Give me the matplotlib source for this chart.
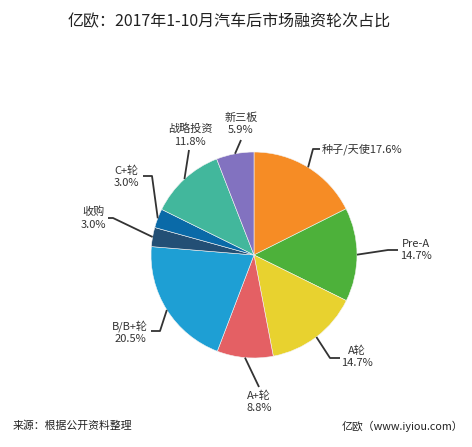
import numpy as np
import matplotlib
matplotlib.use("Agg")
import matplotlib.pyplot as plt

plt.rcParams['font.family'] = ['Noto Sans CJK SC', 'DejaVu Sans']

title = "亿欧：2017年1-10月汽车后市场融资轮次占比"
categories = ["种子/天使", "Pre-A", "A轮", "A+轮", "B/B+轮", "收购", "C+轮", "战略投资", "新三板"]
values = [17.6, 14.7, 14.7, 8.8, 20.5, 3.0, 3.0, 11.8, 5.9]
colors = ["#F68C25", "#4DB13A", "#E8D22F", "#E46064", "#1E9FD4",
          "#234F75", "#0A6AA8", "#42B79C", "#8272C0"]
source = "来源：根据公开资料整理"
credit = "亿欧（www.iyiou.com）"

W, H = 472, 447
fig = plt.figure(figsize=(W / 100, H / 100), dpi=100)
ax = fig.add_axes([0, 0, 1, 1])

cx, cy, R = 254, H - 255, 103
wedges, _ = ax.pie(values, colors=colors, startangle=90, counterclock=False,
                   center=(cx, cy), radius=R, frame=True,
                   wedgeprops=dict(linewidth=0.4, edgecolor='#f4f4f4'))
ax.set_xlim(0, W)
ax.set_ylim(0, H)
ax.set_aspect('equal')
ax.axis('off')

layout = {
    "种子/天使": dict(elbow=(313, 149), end=(320, 149), text=(322, 149), ha='left', single=True),
    "Pre-A":   dict(elbow=(388, 250), end=(398, 250), text=(416, 250), ha='center', single=False),
    "A轮":     dict(elbow=(330, 358), end=(340, 358), text=(357, 357), ha='center', single=False),
    "A+轮":    dict(elbow=(259, 387), end=(259, 387), text=(259, 402), ha='center', single=False),
    "B/B+轮":  dict(elbow=(160, 331), end=(151, 331), text=(130, 332), ha='center', single=False),
    "收购":    dict(elbow=(113, 218), end=(108, 218), text=(93, 218), ha='center', single=False),
    "C+轮":    dict(elbow=(152, 176), end=(143, 176), text=(126, 177), ha='center', single=False),
    "战略投资": dict(elbow=(189, 150), end=(189, 150), text=(190, 135), ha='center', single=False),
    "新三板":  dict(elbow=(241, 140), end=(241, 140), text=(241, 124), ha='center', single=False),
}

total = sum(values)
cum = 0.0
for cat, v in zip(categories, values):
    mid = (cum + v / 2) / total * 2 * np.pi
    cum += v
    ex = cx + R * np.sin(mid)
    ey = cy + R * np.cos(mid)
    L = layout[cat]
    xs = [ex, L['elbow'][0], L['end'][0]]
    ys = [ey, H - L['elbow'][1], H - L['end'][1]]
    ax.plot(xs, ys, color='#333333', lw=1.3, solid_capstyle='butt', zorder=3)
    pct = f"{v:.1f}%"
    txt = f"{cat}{pct}" if L['single'] else f"{cat}\n{pct}"
    ax.text(L['text'][0], H - L['text'][1], txt, ha=L['ha'], va='center',
            fontsize=8, color='#333333', linespacing=1.3)

ax.text(W / 2 - 7, H - 22, title, ha='center', va='center', fontsize=11.5, color='#222222')
ax.text(13, H - 426, source, ha='left', va='center', fontsize=7.8, color='#222222')
ax.text(463, H - 426, credit, ha='right', va='center', fontsize=7.8, color='#222222')

fig.savefig("out.png", dpi=100, facecolor='white')
